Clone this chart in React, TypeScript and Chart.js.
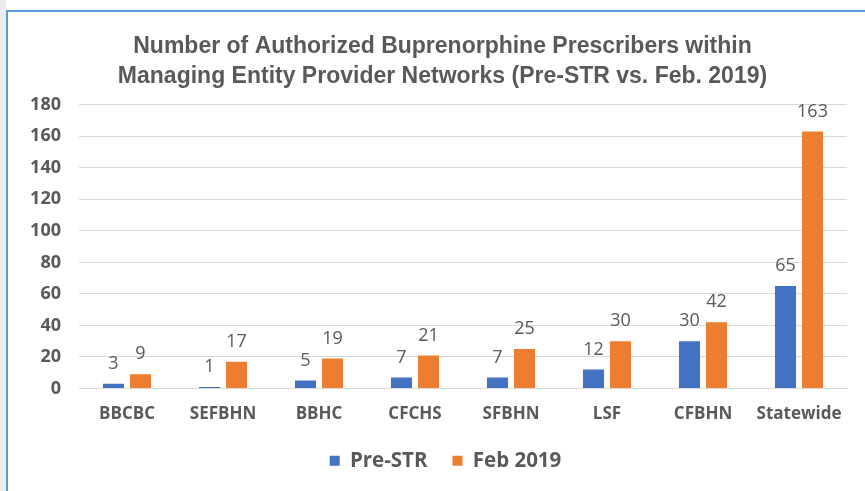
import React, { useEffect, useRef } from "react";
import { Chart, registerables } from "chart.js";

Chart.register(...registerables);

const categories = ["BBCBC", "SEFBHN", "BBHC", "CFCHS", "SFBHN", "LSF", "CFBHN", "Statewide"];
const preStr = [3, 1, 5, 7, 7, 12, 30, 65];
const feb2019 = [9, 17, 19, 21, 25, 30, 42, 163];
const titleLines = [
  "Number of Authorized Buprenorphine Prescribers within",
  "Managing Entity Provider Networks (Pre-STR vs. Feb. 2019)",
];

const GRAY = "#595959";

const valueLabels = {
  id: "valueLabels",
  afterDatasetsDraw(chart: any) {
    const ctx = chart.ctx;
    ctx.save();
    ctx.font = "18px 'Open Sans', sans-serif";
    ctx.fillStyle = GRAY;
    ctx.textAlign = "center";
    ctx.textBaseline = "middle";
    chart.data.datasets.forEach((ds: any, i: number) => {
      const meta = chart.getDatasetMeta(i);
      meta.data.forEach((el: any, j: number) => {
        ctx.fillText(String(ds.data[j]), el.x, el.y - 20);
      });
    });
    ctx.restore();
  },
};

// shift title and legend so they are centred on the frame rather than the canvas
const centreShift = {
  id: "centreShift",
  afterLayout(chart: any) {
    if (chart.titleBlock) {
      chart.titleBlock.left += 19;
      chart.titleBlock.right += 19;
    }
    if (chart.legend) {
      chart.legend.left += 22;
      chart.legend.right += 22;
    }
  },
};

export default function App() {
  const ref = useRef<HTMLCanvasElement | null>(null);
  useEffect(() => {
    if (!ref.current) return;
    const chart = new Chart(ref.current, {
      type: "bar",
      data: {
        labels: categories,
        datasets: [
          { label: "Pre-STR", data: preStr, backgroundColor: "#4472C4", categoryPercentage: 0.5625, barPercentage: 0.78 },
          { label: "Feb 2019", data: feb2019, backgroundColor: "#ED7D31", categoryPercentage: 0.5625, barPercentage: 0.78 },
        ],
      },
      options: {
        animation: false,
        responsive: false,
        maintainAspectRatio: false,
        layout: { padding: { left: 0, right: 18, top: 0, bottom: 10 } },
        plugins: {
          title: {
            display: true,
            text: titleLines,
            color: GRAY,
            font: { family: "'Liberation Sans', sans-serif", size: 23, weight: "bold", lineHeight: 1.3 },
            padding: { top: 32, bottom: 13 },
          },
          legend: {
            position: "bottom",
            labels: {
              color: GRAY,
              font: { family: "'Open Sans', sans-serif", size: 20.5, weight: "bold" },
              boxWidth: 10,
              boxHeight: 10,
              padding: 25,
            },
          },
          tooltip: { enabled: false },
        },
        scales: {
          x: {
            grid: { display: false },
            border: { color: "#D9D9D9", width: 1 },
            ticks: { color: GRAY, font: { family: "'Open Sans', sans-serif", size: 17, weight: "bold" }, padding: 7 },
            afterFit: (s: any) => { s.height = 37; },
          },
          y: {
            min: 0,
            max: 180,
            ticks: { stepSize: 20, color: GRAY, font: { family: "'Open Sans', sans-serif", size: 18, weight: "bold" }, padding: 18 },
            grid: { color: "#D9D9D9", drawTicks: false },
            border: { display: false },
            afterFit: (s: any) => { s.width = 79; },
          },
        },
      },
      plugins: [valueLabels, centreShift],
    });
    return () => chart.destroy();
  }, []);
  return (
    <div style={{ position: "fixed", left: 0, top: 0, width: 865, height: 491, background: "#fff" }}>
      <div style={{ position: "absolute", left: 0, top: 0, width: 6, height: 491, background: "#ececec" }} />
      <div style={{ position: "absolute", left: 6, top: 10, right: 0, bottom: 0, borderTop: "2px solid #5B9BD5", borderLeft: "2px solid #5B9BD5" }} />
      <canvas ref={ref} width={865} height={491} style={{ position: "absolute", left: 0, top: 0 }} />
    </div>
  );
}
